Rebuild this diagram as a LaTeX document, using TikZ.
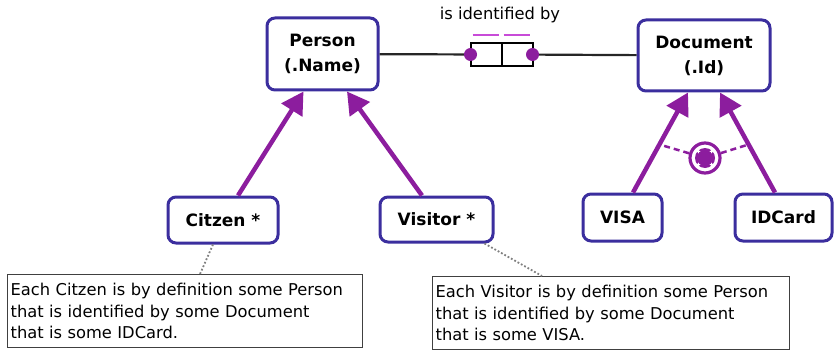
\documentclass[tikz,border=0pt]{standalone}
\usepackage{fontspec}
\setmainfont{DejaVu Sans}
\usetikzlibrary{arrows.meta,positioning,shapes.geometric}
\definecolor{ent}{HTML}{3B2E9E}
\definecolor{sub}{HTML}{8C1D9E}
\definecolor{uniq}{HTML}{C84BD8}
\tikzset{
    entity/.style={draw=ent,line width=3pt,rounded corners=8pt,fill=white,
        inner sep=0pt,align=center,font=\fontsize{17}{25}\selectfont\bfseries},
    role/.style={draw=black,line width=2pt,minimum width=31pt,
        minimum height=23pt,inner sep=0pt,outer sep=0pt},
    link/.style={draw=black!85,line width=2.2pt},
    uniqbar/.style={draw=uniq,line width=2.5pt},
    isa/.style={draw=sub,line width=4.5pt,-{Triangle[length=22pt,width=24pt]}},
    xorlink/.style={draw=sub,line width=2.5pt,dash pattern=on 6pt off 4pt},
    notebox/.style={draw=black!75,line width=1.3pt,anchor=north west,
        inner xsep=3pt,inner ysep=2pt,align=left,text width=349pt,
        minimum height=73pt,font=\fontsize{16.3}{21.5}\selectfont},
    annot/.style={draw=gray,line width=1.8pt,dotted},
}
\newcommand{\entity}[6]{
    \node[entity,minimum width=#4pt,minimum height=#5pt] (#1) at (#2,#3) {#6};
}

\begin{document}
\begin{tikzpicture}[x=1pt,y=-1pt]
        \useasboundingbox (0,0) rectangle (834,350);

        \entity{person}{322.5}{54}{111}{72}{Person\\(.Name)};
        \entity{document}{704}{55.5}{132}{71}{Document\\(.Id)};
        \entity{citzen}{223}{220}{110}{46}{Citzen *};
        \entity{visitor}{436.5}{219.5}{113}{45}{Visitor *};
        \entity{visa}{622.5}{217.5}{79}{47}{VISA};
        \entity{idcard}{783.5}{217.5}{97}{47}{IDCard};

        % fact type with its two roles
        \node[role] (role1) at (486,54.5) {};
        \node[role,right=0pt of role1] (role2) {};
        \node[font=\fontsize{16.3}{18}\selectfont] (reading) at (500,15) {is identified by};
        \draw[link] (person) -- (role1);
        \draw[link] (role2) -- (document);
        \fill[sub] (role1.west) circle (6.5pt);
        \fill[sub] (role2.east) circle (6.5pt);
        \draw[uniqbar] ([xshift=2pt,yshift=8pt]role1.north west) -- ([xshift=-3pt,yshift=8pt]role1.north east);
        \draw[uniqbar] ([xshift=2pt,yshift=8pt]role2.north west) -- ([xshift=-3pt,yshift=8pt]role2.north east);

        % subtypes
        \draw[isa] ([xshift=15pt]citzen.north) -- ([xshift=-19pt]person.south);
        \draw[isa] ([xshift=-14.5pt]visitor.north) -- ([xshift=24.5pt]person.south);
        \draw[isa] ([xshift=10.5pt]visa.north) -- ([xshift=-16pt]document.south);
        \draw[isa] ([xshift=-8.5pt]idcard.north) -- ([xshift=16pt]document.south);

        % exclusive-or constraint
        \path ([xshift=10.5pt]visa.north) -- ([xshift=-16pt]document.south) coordinate[pos=0.48] (vjoin);
        \path ([xshift=-8.5pt]idcard.north) -- ([xshift=16pt]document.south) coordinate[pos=0.48] (ijoin);
        \node[circle,draw=sub,line width=3.2pt,minimum size=30pt,inner sep=0pt,fill=white] (xor) at (705,158) {};
        \draw[xorlink] (xor) -- (vjoin);
        \draw[xorlink] (xor) -- (ijoin);
        \fill[sub] (xor.center) circle (10pt);
        \draw[white,line width=2.2pt] ([shift={(-8.5pt,-8.5pt)}]xor.center) -- ([shift={(8.5pt,8.5pt)}]xor.center);
        \draw[white,line width=2.2pt] ([shift={(-8.5pt,8.5pt)}]xor.center) -- ([shift={(8.5pt,-8.5pt)}]xor.center);
        \fill[sub] ([shift={(-6pt,-6pt)}]xor.center) rectangle ([shift={(6pt,6pt)}]xor.center);

        % derivation notes
        \node[notebox] (note1) at (7,274) {Each Citzen is by definition some Person\\that is identified by some Document\\that is some IDCard.};
        \node[notebox,text width=351pt] (note2) at (432,276) {Each Visitor is by definition some Person\\that is identified by some Document\\that is some VISA.};
        \draw[annot] ([xshift=-10pt]citzen.south) -- ([xshift=193pt]note1.north west);
        \draw[annot] ([xshift=-10pt]visitor.south east) -- ([xshift=110pt]note2.north west);

\end{tikzpicture}
\end{document}
